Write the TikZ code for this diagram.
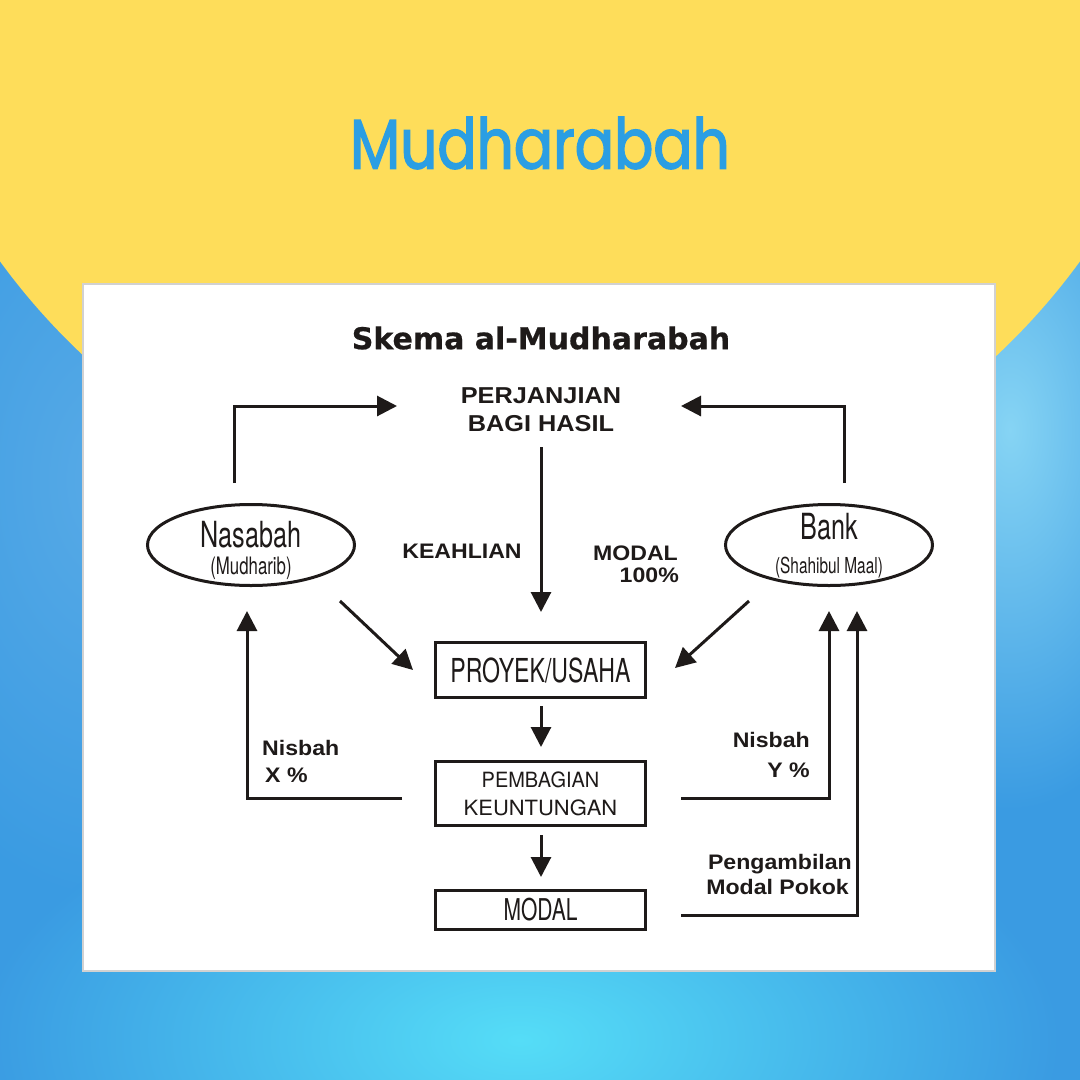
\documentclass[tikz,border=0pt]{standalone}
\usepackage{fontspec}
\usetikzlibrary{arrows.meta,shapes.geometric}
\newfontfamily\titlefont[FakeStretch=0.83,FakeBold=2]{Poppins}
\newfontfamily\headfont[FakeBold=0.6]{DejaVu Sans}
\newfontfamily\lblfont[FakeStretch=1.1]{Liberation Sans}
\newfontfamily\condfont[FakeStretch=0.7]{TeX Gyre Heros}
\newfontfamily\wfont[FakeStretch=0.95]{TeX Gyre Heros}
\definecolor{ybg}{HTML}{FEDD5A}
\definecolor{bbase}{HTML}{3A9BE2}
\definecolor{bcyan}{HTML}{55DDF7}
\definecolor{blight}{HTML}{86D4F4}
\definecolor{tblue}{HTML}{2B9EE3}
\definecolor{ink}{HTML}{1E1A19}
\tikzset{
  arr/.style={line width=3pt, draw=ink, -{Triangle[length=20pt,width=20pt]}},
  boxnode/.style={draw=ink, line width=3pt, minimum width=210pt, text=ink, inner sep=2pt},
  ovalnode/.style={ellipse, draw=ink, line width=3pt, minimum width=207pt, minimum height=81pt},
  lbl/.style={text=ink, inner sep=0pt, font=\lblfont\bfseries\fontsize{21}{28}\selectfont},
  ovaltext/.style={text=ink, inner sep=0pt},
}
\begin{document}
\begin{tikzpicture}[x=1pt,y=-1pt]
\useasboundingbox (0,0) rectangle (1080,1080);
% background
\fill[bbase] (0,0) rectangle (1080,1080);
\begin{scope}
\clip (0,0) rectangle (1080,1080);
\shade[inner color=bbase!85!white, outer color=bbase] (110,480) ellipse (260 and 420);
\shade[inner color=bcyan, outer color=bbase] (520,1040) ellipse (540 and 270);
\shade[inner color=blight, outer color=bbase] (1010,430) ellipse (200 and 380);
\fill[ybg] (540,-132) circle (668);
\end{scope}
% title
\node[text=tblue, font=\titlefont\fontsize{70}{80}\selectfont, inner sep=0pt] (title) at (540,143) {Mudharabah};
% panel
\draw[draw=black!18, fill=white, line width=1.2pt] (83,284) rectangle (995,971);
\node[text=ink, inner sep=0pt, font=\headfont\bfseries\fontsize{30}{36}\selectfont] (skema) at (541,338) {Skema al-Mudharabah};
% top label
\node[lbl, align=center, font=\lblfont\bfseries\fontsize{23}{28}\selectfont] (perj) at (541,410) {PERJANJIAN\\BAGI HASIL};
% ovals
\node[ovalnode] (nas) at (251,545) {};
\node[ovaltext, font=\condfont\fontsize{36}{40}\selectfont] (nast) at (251,535) {Nasabah};
\node[ovaltext, font=\condfont\fontsize{24}{26}\selectfont] (nass) at (251,568) {(Mudharib)};
\node[ovalnode] (bank) at (829,545) {};
\node[ovaltext, font=\condfont\fontsize{36}{40}\selectfont] (bankt) at (829,527) {Bank};
\node[ovaltext, font=\condfont\fontsize{22}{26}\selectfont] (banks) at (829,568) {(Shahibul Maal)};
% boxes
\node[boxnode, minimum height=55pt, font=\condfont\fontsize{33}{36}\selectfont] (proyek) at (540.5,670) {PROYEK/USAHA};
\node[boxnode, minimum height=64pt, align=center, font=\wfont\fontsize{21}{28}\selectfont] (bagi) at (540.5,793.5) {PEMBAGIAN\\\scalebox{1.1}[1]{KEUNTUNGAN}};
\node[boxnode, minimum height=39pt, font=\condfont\fontsize{30}{32}\selectfont] (modal) at (540.5,910) {MODAL};
% labels
\node[lbl] (keahlian) at (462,551) {KEAHLIAN};
\node[lbl, anchor=east] (modlbl) at (678,553) {MODAL};
\node[lbl, anchor=east] (pct) at (679,575) {100\%};
\node[lbl, anchor=base west] (nisx) at (262,755) {Nisbah};
\node[lbl, anchor=base west] (xp) at (265,782) {X \%};
\node[lbl, anchor=base east] (nisy) at (810,747) {Nisbah};
\node[lbl, anchor=base east] (yp) at (810,777) {Y \%};
\node[lbl, anchor=base east] (peng) at (852,869) {Pengambilan};
\node[lbl, anchor=base east] (mpok) at (849,894) {Modal Pokok};
% connector end points
\coordinate (nasup) at (234,483);
\coordinate (perjL) at (397,406);
\coordinate (bankup) at (844,483);
\coordinate (perjR) at (681,406);
\coordinate (perjD) at (541,447);
\coordinate (proyT) at (541,612);
\coordinate (nasD) at (340,601);
\coordinate (proyL) at (413,670);
\coordinate (bankD) at (749,601);
\coordinate (proyR) at (675,668);
\coordinate (proyB) at (541,706);
\coordinate (bagiT) at (541,747);
\coordinate (bagiB) at (541,835);
\coordinate (modT) at (541,877);
\coordinate (bagiL) at (402,798);
\coordinate (nasB) at (247,611);
\coordinate (bagiR) at (681,798);
\coordinate (bankB1) at (829,611);
\coordinate (modR) at (681,915);
\coordinate (bankB2) at (857,611);
% connectors
\draw[arr] (nasup) |- (perjL);
\draw[arr] (bankup) |- (perjR);
\draw[arr] (perjD) -- (proyT);
\draw[arr] (nasD) -- (proyL);
\draw[arr] (bankD) -- (proyR);
\draw[arr] (proyB) -- (bagiT);
\draw[arr] (bagiB) -- (modT);
\draw[arr] (bagiL) -| (nasB);
\draw[arr] (bagiR) -| (bankB1);
\draw[arr] (modR) -| (bankB2);
\end{tikzpicture}
\end{document}
